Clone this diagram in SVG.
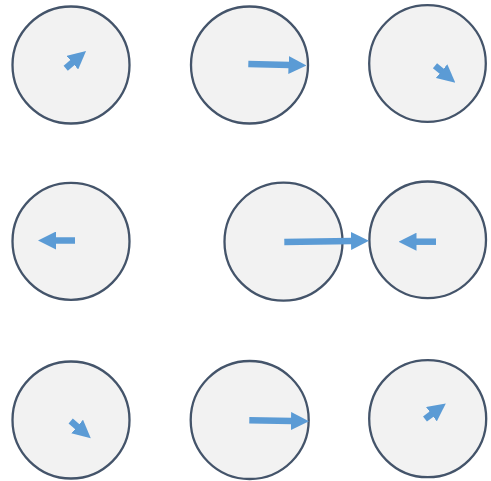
<svg xmlns="http://www.w3.org/2000/svg" width="491" height="481" viewBox="0 0 491 481">
<style>
.node{fill:#f2f2f2;stroke:#44546a;stroke-width:2.3}
.arr{stroke:#5b9bd5;stroke-width:6.5;fill:none;marker-end:url(#ah)}
</style>
<defs>
<marker id="ah" markerUnits="userSpaceOnUse" markerWidth="18" markerHeight="18" refX="1" refY="9" orient="auto" viewBox="0 0 18 18">
<path d="M0,0 L18,9 L0,18 z" fill="#5b9bd5"/>
</marker>
</defs>
<rect width="491" height="481" fill="#ffffff"/>
<g id="n1"><circle class="node" cx="71" cy="65" r="58.5"/></g>
<g id="n2"><circle class="node" cx="249.5" cy="65" r="58.5"/></g>
<g id="n3"><circle class="node" cx="427.5" cy="63.5" r="58.3"/></g>
<g id="n4"><circle class="node" cx="71" cy="241.3" r="58.5"/></g>
<g id="n5"><circle class="node" cx="283.5" cy="241.7" r="59"/></g>
<g id="n6"><circle class="node" cx="427.7" cy="239.8" r="58.3"/></g>
<g id="n7"><circle class="node" cx="71" cy="420" r="58.5"/></g>
<g id="n8"><circle class="node" cx="249.7" cy="420" r="59"/></g>
<g id="n9"><circle class="node" cx="427.7" cy="418.7" r="58.5"/></g>
<g id="connectors">
<line class="arr" x1="65.7" y1="68.3" x2="73.1" y2="62"/>
<line class="arr" x1="248.3" y1="64" x2="289.5" y2="65"/>
<line class="arr" x1="435" y1="65.7" x2="442.3" y2="71.8"/>
<line class="arr" x1="75" y1="240.5" x2="55" y2="240.5"/>
<line class="arr" x1="284.3" y1="242" x2="352" y2="241"/>
<line class="arr" x1="436" y1="241.7" x2="415.5" y2="241.7"/>
<line class="arr" x1="70.7" y1="421" x2="77.9" y2="427.2"/>
<line class="arr" x1="249.3" y1="420.3" x2="292" y2="421"/>
<line class="arr" x1="425" y1="419" x2="432.2" y2="413.6"/>
</g>
</svg>
